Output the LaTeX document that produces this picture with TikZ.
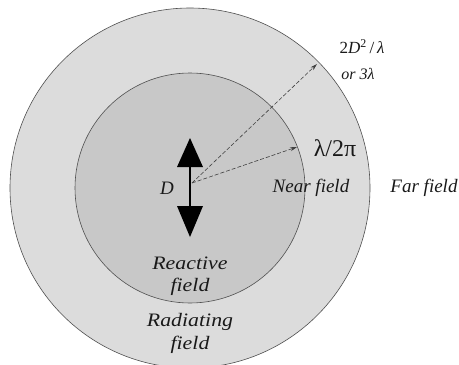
\documentclass[tikz,border=0pt]{standalone}
\usepackage{fontspec}
\setmainfont{Liberation Serif}
\newfontfamily\tms{Liberation Serif}
\usetikzlibrary{arrows.meta}
\definecolor{outerfill}{HTML}{DCDCDC}
\definecolor{innerfill}{HTML}{C8C8C8}
\definecolor{edge}{HTML}{505050}
\tikzset{
  lbl/.style={font=\tms\fontsize{19}{20}\selectfont\itshape, inner sep=0pt, text=black!90},
  smalllbl/.style={font=\tms\fontsize{16}{18}\selectfont\itshape, inner sep=0pt, text=black!90},
  radius/.style={dashed, dash pattern=on 4pt off 2pt, line width=0.6pt, draw=black!75, -{Stealth[length=7pt,width=4pt]}},
  dipole/.style={fill=black, draw=none}
}
\begin{document}
\begin{tikzpicture}[x=1pt,y=-1pt]
\useasboundingbox (0,0) rectangle (459,365);
\fill[white] (0,0) rectangle (459,365);
\begin{scope}
\clip (0,0) rectangle (459,365);
\draw[edge, fill=outerfill, line width=0.6pt] (190,188) circle (180);
\end{scope}
\draw[edge, fill=innerfill, line width=0.6pt] (190,188) circle (115);
% dipole
\fill[dipole] (190,138) -- (203,167) -- (177,167) -- cycle;
\fill[dipole] (177,206) -- (203,206) -- (190,237) -- cycle;
\draw[line width=2pt] (190,165) -- (190,208);
\coordinate (src) at (192,183);
\coordinate (far) at (317,64);
\coordinate (near) at (297,147);
\draw[radius] (src) -- (far);
\draw[radius] (src) -- (near);
\node[lbl] (D) at (167,188) {D};
\node[smalllbl, font=\tms\fontsize{17}{18}\selectfont] (ff) at (362,47) {2\textit{D}\textsuperscript{2}\,/\,\textit{λ}};
\node[smalllbl] (or) at (358,74) {or 3λ};
\node[font=\tms\fontsize{24}{24}\selectfont, inner sep=0pt, text=black!90] (lam) at (335,148) {λ/2π};
\node[lbl] (nearl) at (311,188) {Near field};
\node[lbl] (farl) at (424,188) {Far field};
\node[lbl, xscale=1.15] (r1) at (190,263) {Reactive};
\node[lbl, xscale=1.15] (r2) at (190,287) {field};
\node[lbl, xscale=1.15] (r3) at (190,322) {Radiating};
\node[lbl, xscale=1.15] (r4) at (190,345) {field};
\end{tikzpicture}
\end{document}
